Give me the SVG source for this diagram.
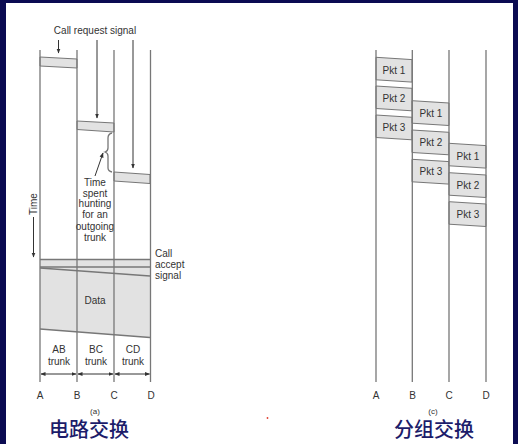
<svg xmlns="http://www.w3.org/2000/svg" width="518" height="444" viewBox="0 0 518 444">
<defs>
<marker id="ah" viewBox="0 0 10 10" refX="9" refY="5" markerWidth="5" markerHeight="5" orient="auto-start-reverse" markerUnits="userSpaceOnUse">
<path d="M0,1 L10,5 L0,9 z" fill="#333"/>
</marker>
<style>
.ln{stroke:#777;stroke-width:1.3;fill:none}
.bd{fill:#e2e2e2;stroke:#777;stroke-width:1}
.t{font-family:"Liberation Sans",Arial,sans-serif;font-size:10px;fill:#333}
.m{text-anchor:middle}
.ar{stroke:#333;stroke-width:1;fill:none}
.cjk{font-family:"Noto Sans CJK SC",sans-serif;font-size:20px;fill:#1c1c6a;font-weight:500}
</style>
</defs>
<rect x="0" y="0" width="518" height="444" fill="#ffffff"/>
<rect x="0" y="0" width="518" height="3" fill="#0b0b52"/>
<rect x="0" y="0" width="6" height="444" fill="#0b0b52"/>
<rect x="513" y="0" width="5" height="444" fill="#0b0b52"/>

<!-- circuit switching -->
<g id="circuit">
<g id="call-accept-data">
<polygon points="40,259.5 150,259.5 150,337.5 40,329" fill="#e2e2e2"/>
<line class="ln" x1="40" y1="259.5" x2="150" y2="259.5" stroke-width="1"/>
<line class="ln" x1="40" y1="267" x2="150" y2="267" stroke-width="1"/>
<line class="ln" x1="40" y1="268" x2="150" y2="276" stroke-width="1"/>
<line class="ln" x1="40" y1="329" x2="150" y2="337.5" stroke-width="1"/>
<text class="t m" x="95" y="304">Data</text>
</g>
<g id="band-ab"><polygon class="bd" points="40,57 77,59 77,68 40,66"/></g>
<g id="band-bc"><polygon class="bd" points="77,121 114,123 114,132 77,129.5"/></g>
<g id="band-cd"><polygon class="bd" points="114,172 150,174.5 150,183.5 114,181"/></g>
<g id="lines-a">
<line class="ln" x1="40" y1="50" x2="40" y2="382"/>
<line class="ln" x1="77" y1="50" x2="77" y2="382"/>
<line class="ln" x1="114" y1="50" x2="114" y2="382"/>
<line class="ln" x1="150.5" y1="50" x2="150.5" y2="382"/>
</g>
<text class="t m" x="95" y="33.5">Call request signal</text>
<g id="time-hunt">
<path class="ln" d="M112,133 Q108,134 108,138 L108,148 Q108,151 105,152 Q108,153 108,156 L108,168 Q108,171 112,172" stroke-width="1"/>
<text class="t m" x="95" y="185.5">Time</text>
<text class="t m" x="95" y="196.5">spent</text>
<text class="t m" x="95" y="207">hunting</text>
<text class="t m" x="95" y="218">for an</text>
<text class="t m" x="95" y="230">outgoing</text>
<text class="t m" x="95" y="241">trunk</text>
</g>
<text class="t" x="155" y="257">Call</text>
<text class="t" x="155" y="268">accept</text>
<text class="t" x="155" y="279">signal</text>
<text class="t m" transform="translate(36.5,204) rotate(-90)">Time</text>
<text class="t m" x="59" y="352.5">AB</text>
<text class="t m" x="59" y="364.5">trunk</text>
<text class="t m" x="96" y="352.5">BC</text>
<text class="t m" x="96" y="364.5">trunk</text>
<text class="t m" x="133" y="352.5">CD</text>
<text class="t m" x="133" y="364.5">trunk</text>
<text class="t m" x="40" y="398.5">A</text>
<text class="t m" x="77" y="398.5">B</text>
<text class="t m" x="114" y="398.5">C</text>
<text class="t m" x="151" y="398.5">D</text>
<text class="t m" x="95" y="414" style="font-size:8px">(a)</text>
<text class="cjk" x="49" y="437">电路交换</text>
</g>

<!-- packet switching -->
<g id="packets-ab">
<polygon class="bd" points="376,57.3 412,59.6 412,82.1 376,79.8"/>
<text class="t m" x="394" y="73.5">Pkt 1</text>
<polygon class="bd" points="376,86 412,88.3 412,110.8 376,108.5"/>
<text class="t m" x="394" y="102">Pkt 2</text>
<polygon class="bd" points="376,115 412,117.3 412,139.8 376,137.5"/>
<text class="t m" x="394" y="131">Pkt 3</text>
</g>
<g id="packets-bc">
<polygon class="bd" points="412,100.7 449,103 449,125.5 412,123.2"/>
<text class="t m" x="431" y="116.5">Pkt 1</text>
<polygon class="bd" points="412,130 449,132.3 449,154.8 412,152.5"/>
<text class="t m" x="431" y="146">Pkt 2</text>
<polygon class="bd" points="412,159.3 449,161.6 449,184.1 412,181.8"/>
<text class="t m" x="431" y="175">Pkt 3</text>
</g>
<g id="packets-cd">
<polygon class="bd" points="449,143.3 486,145.6 486,168.1 449,165.8"/>
<text class="t m" x="468" y="159.5">Pkt 1</text>
<polygon class="bd" points="449,172.7 486,175 486,197.5 449,195.2"/>
<text class="t m" x="468" y="189">Pkt 2</text>
<polygon class="bd" points="449,201.7 486,204 486,226.5 449,224.2"/>
<text class="t m" x="468" y="218">Pkt 3</text>
</g>
<g id="lines-c">
<line class="ln" x1="376" y1="50" x2="376" y2="382"/>
<line class="ln" x1="412.3" y1="50" x2="412.3" y2="382"/>
<line class="ln" x1="449" y1="50" x2="449" y2="382"/>
<line class="ln" x1="486" y1="50" x2="486" y2="382"/>
</g>
<text class="t m" x="376" y="398.5">A</text>
<text class="t m" x="412.5" y="398.5">B</text>
<text class="t m" x="449" y="398.5">C</text>
<text class="t m" x="486" y="398.5">D</text>
<text class="t m" x="433" y="414" style="font-size:8px">(c)</text>
<text class="cjk" x="394" y="437">分组交换</text>
<circle cx="267.5" cy="418" r="0.9" fill="#e04030"/>

<g id="connectors">
<line class="ar" x1="58.5" y1="40" x2="58.5" y2="53" marker-end="url(#ah)"/>
<line class="ar" x1="97" y1="40" x2="97" y2="118" marker-end="url(#ah)"/>
<line class="ar" x1="133" y1="40" x2="133" y2="168" marker-end="url(#ah)"/>
<line class="ar" x1="95" y1="176" x2="103" y2="153" marker-end="url(#ah)"/>
<line class="ar" x1="33.5" y1="217" x2="33.5" y2="257" marker-end="url(#ah)"/>
<line class="ar" x1="41" y1="374" x2="76" y2="374" marker-start="url(#ah)" marker-end="url(#ah)"/>
<line class="ar" x1="78" y1="374" x2="113" y2="374" marker-start="url(#ah)" marker-end="url(#ah)"/>
<line class="ar" x1="115" y1="374" x2="149.5" y2="374" marker-start="url(#ah)" marker-end="url(#ah)"/>
</g>
</svg>
